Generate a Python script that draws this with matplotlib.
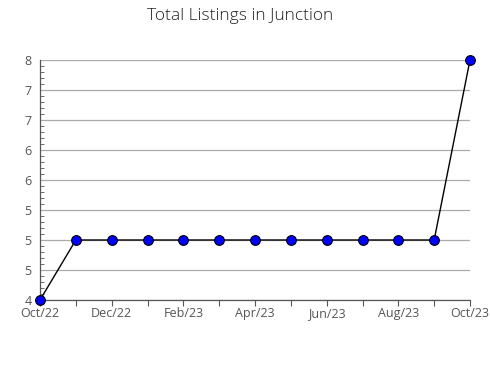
import matplotlib
matplotlib.use('Agg')
import matplotlib.pyplot as plt
from matplotlib.ticker import MultipleLocator

plt.rcParams['font.family'] = ['Open Sans', 'DejaVu Sans']

months = ['Oct/22', 'Nov/22', 'Dec/22', 'Jan/23', 'Feb/23', 'Mar/23', 'Apr/23',
          'May/23', 'Jun/23', 'Jul/23', 'Aug/23', 'Sep/23', 'Oct/23']
listings = [4, 5, 5, 5, 5, 5, 5, 5, 5, 5, 5, 5, 8]
y_ticks = [4, 4.5, 5, 5.5, 6, 6.5, 7, 7.5, 8]
y_labels = ['4', '5', '5', '5', '6', '6', '7', '7', '8']

fig = plt.figure(figsize=(4.9, 3.8), dpi=100)
ax = fig.add_axes([40/490, 1 - 300/380, 430/490, 240/380])

x = list(range(len(months)))
ax.plot(x, listings, color='black', linewidth=1, marker='o', markersize=7,
        markerfacecolor='#0000ff', markeredgecolor='black', markeredgewidth=0.8,
        clip_on=False, zorder=3)

ax.set_xlim(0, len(months) - 1)
ax.set_ylim(4, 8)
ax.set_xticks(x)
ax.set_xticklabels([m if i % 2 == 0 else '' for i, m in enumerate(months)])
ax.set_yticks(y_ticks)
ax.set_yticklabels(y_labels)
ax.yaxis.set_minor_locator(MultipleLocator(0.1))

ax.grid(axis='y', color='#aaaaaa', linewidth=0.9)
ax.set_axisbelow(True)
for s in ['top', 'right']:
    ax.spines[s].set_visible(False)
for s in ['left', 'bottom']:
    ax.spines[s].set_color('#555555')
    ax.spines[s].set_linewidth(0.9)

ax.tick_params(axis='x', direction='out', length=4, color='#555555',
               labelsize=9, labelcolor='#555555', pad=1)
ax.tick_params(axis='y', which='major', length=0, labelsize=9,
               labelcolor='#555555', pad=6)
ax.tick_params(axis='y', which='minor', direction='in', length=3, color='#555555')

fig.suptitle('Total Listings in Junction', x=0.49, y=0.98, fontsize=12.5,
             color='#222222', fontweight='light')

fig.savefig('out.png', dpi=100)
